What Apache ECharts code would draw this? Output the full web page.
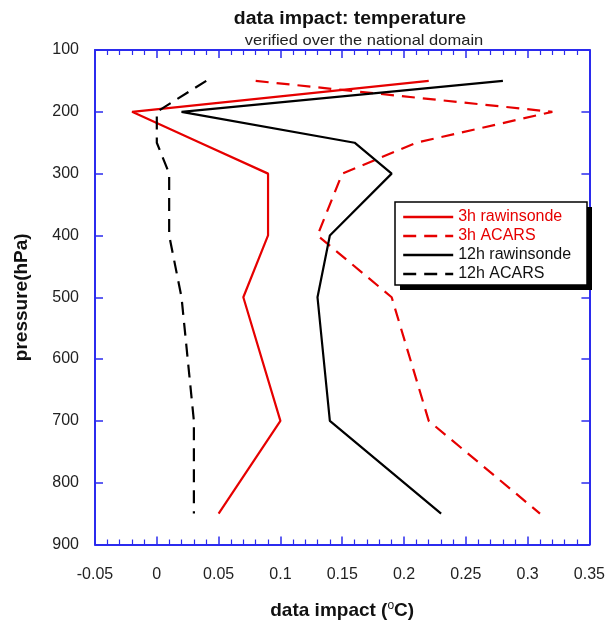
<!DOCTYPE html>
<html>
<head>
<meta charset="utf-8">
<script src="https://cdn.jsdelivr.net/npm/echarts@6/dist/echarts.min.js"></script>
<style>
html,body{margin:0;padding:0;background:#fff;}
#chart{width:608px;height:625px;}
</style>
</head>
<body>
<div id="chart"></div>
<script>
var pressureLevels = [150, 200, 250, 300, 400, 500, 700, 850];
var raw3h   = [0.22, -0.02, 0.035, 0.09, 0.09, 0.07, 0.10, 0.05];
var acars3h = [0.08, 0.32, 0.21, 0.15, 0.13, 0.19, 0.22, 0.31];
var raw12h  = [0.28, 0.02, 0.16, 0.19, 0.14, 0.13, 0.14, 0.23];
var acars12h= [0.04, 0.00, 0.00, 0.01, 0.01, 0.02, 0.03, 0.03];
var seriesNames = ['3h rawinsonde', '3h ACARS', '12h rawinsonde', '12h ACARS'];

var FONT = 'Liberation Sans, Arial, sans-serif';
var BLUE = '#2b2bee';
var RED = '#e60000';

function pairs(vals) {
  return vals.map(function (v, i) { return [v, pressureLevels[i]]; });
}

var chart = echarts.init(document.getElementById('chart'), null, {renderer: 'canvas'});

var axisCommonX = {
  type: 'value', min: -0.05, max: 0.35, interval: 0.05,
  axisLine: {show: true, onZero: false, lineStyle: {color: BLUE, width: 2}},
  axisTick: {show: true, inside: true, length: 8, lineStyle: {color: BLUE, width: 1.5}},
  minorTick: {show: true, splitNumber: 5, length: 5, lineStyle: {color: BLUE, width: 1.2}},
  splitLine: {show: false}
};
var axisCommonY = {
  type: 'value', min: 100, max: 900, interval: 100, inverse: true,
  axisLine: {show: true, onZero: false, lineStyle: {color: BLUE, width: 2}},
  axisTick: {show: true, inside: true, length: 8, lineStyle: {color: BLUE, width: 1.5}},
  splitLine: {show: false}
};

var option = {
  backgroundColor: '#fff',
  animation: false,
  graphic: [
    {type: 'text', x: 350, y: 19, scaleX: 1.08, z: 10,
     style: {text: 'data impact: temperature', textAlign: 'center', textVerticalAlign: 'middle',
             font: 'bold 18px ' + FONT, fill: '#111'}},
    {type: 'text', x: 364, y: 41, scaleX: 1.1, z: 10,
     style: {text: 'verified over the national domain', textAlign: 'center', textVerticalAlign: 'middle',
             font: '15px ' + FONT, fill: '#222'}},
    {type: 'rect', z: 3, shape: {x: 400, y: 207, width: 192, height: 83},
     style: {fill: '#000'}},
    {type: 'rect', z: 3, shape: {x: 395, y: 202, width: 192, height: 83},
     style: {fill: '#fff', stroke: '#000', lineWidth: 1.5}}
  ],
  grid: {left: 95, right: 16, top: 50, bottom: 78, containLabel: false},
  xAxis: [
    Object.assign({}, axisCommonX, {
      position: 'bottom',
      axisLabel: {show: true, margin: 22, fontFamily: FONT, fontSize: 16, color: '#222'},
      name: 'data impact ({sup|o}C)', nameLocation: 'middle', nameGap: 55,
      nameTextStyle: {fontFamily: FONT, fontSize: 19, fontWeight: 'bold', color: '#111',
        rich: {sup: {fontFamily: FONT, fontSize: 12, fontWeight: 'normal', color: '#111', verticalAlign: 'top', padding: [0, 0, 10, 0]}}}
    }),
    Object.assign({}, axisCommonX, {position: 'top', axisLabel: {show: false}})
  ],
  yAxis: [
    Object.assign({}, axisCommonY, {
      position: 'left',
      axisLabel: {show: true, margin: 16, fontFamily: FONT, fontSize: 16, color: '#222'},
      name: 'pressure(hPa)', nameLocation: 'middle', nameGap: 64, nameRotate: 90,
      nameTextStyle: {fontFamily: FONT, fontSize: 19, fontWeight: 'bold', color: '#111'}
    }),
    Object.assign({}, axisCommonY, {position: 'right', axisLabel: {show: false}})
  ],
  legend: {
    orient: 'vertical', left: 402, top: 209, z: 5,
    itemWidth: 50, itemHeight: 12, itemGap: 3,
    padding: 0,
    itemStyle: {opacity: 0},
    lineStyle: {width: 2.4},
    textStyle: {fontFamily: FONT, fontSize: 16},
    data: [
      {name: seriesNames[0], textStyle: {color: RED}},
      {name: seriesNames[1], textStyle: {color: RED}},
      {name: seriesNames[2], textStyle: {color: '#111'}},
      {name: seriesNames[3], textStyle: {color: '#111'}}
    ]
  },
  series: [
    {name: seriesNames[0], type: 'line', data: pairs(raw3h), showSymbol: false, symbol: 'none',
     lineStyle: {color: RED, width: 2.2, type: 'solid'}, itemStyle: {color: RED}},
    {name: seriesNames[1], type: 'line', data: pairs(acars3h), showSymbol: false, symbol: 'none',
     lineStyle: {color: RED, width: 2.2, type: [13, 8]}, itemStyle: {color: RED}},
    {name: seriesNames[2], type: 'line', data: pairs(raw12h), showSymbol: false, symbol: 'none',
     lineStyle: {color: '#000', width: 2.2, type: 'solid'}, itemStyle: {color: '#000'}},
    {name: seriesNames[3], type: 'line', data: pairs(acars12h), showSymbol: false, symbol: 'none',
     lineStyle: {color: '#000', width: 2.2, type: [13, 8]}, itemStyle: {color: '#000'}}
  ]
};
chart.setOption(option);
</script>
</body>
</html>
